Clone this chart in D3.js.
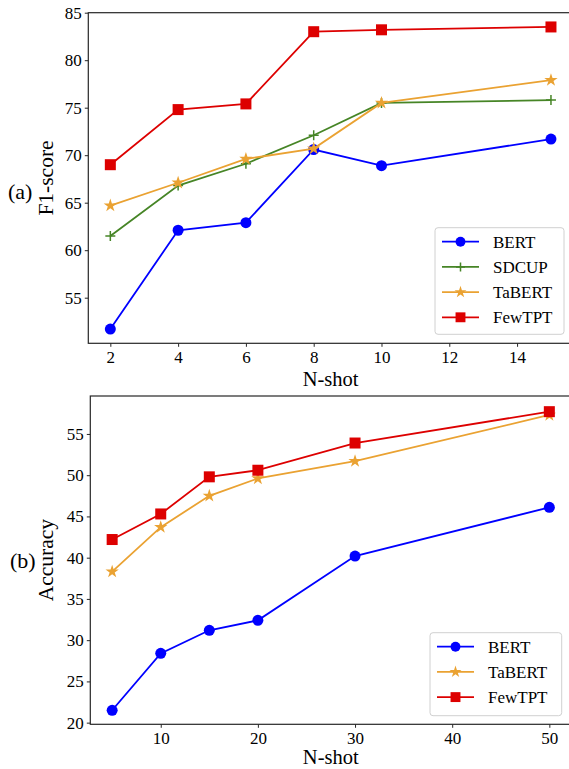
<!DOCTYPE html>
<html>
<head>
<meta charset="utf-8">
<script src="https://cdn.jsdelivr.net/npm/d3@7"></script>
<style>
  body { margin: 0; background: #fff; }
  svg text { font-family: "Liberation Serif", "Times New Roman", serif; }
</style>
</head>
<body>
<svg id="chart" width="569" height="769"></svg>
<script>
// ---- data ----
const shotsA = [2, 4, 6, 8, 10, 15];
const bertA   = [51.7, 62.1, 62.9, 70.6, 68.9, 71.7];
const sdcupA  = [61.5, 66.8, 69.1, 72.1, 75.5, 75.8];
const tabertA = [64.7, 67.1, 69.6, 70.7, 75.5, 77.9];
const fewtptA = [69.0, 74.8, 75.4, 83.0, 83.2, 83.5];
const xTicksA = [2, 4, 6, 8, 10, 12, 14];
const yTicksA = [55, 60, 65, 70, 75, 80, 85];

const shotsB = [5, 10, 15, 20, 30, 50];
const bertB   = [21.5, 28.4, 31.2, 32.4, 40.2, 46.1];
const tabertB = [38.3, 43.7, 47.5, 49.6, 51.7, 57.3];
const fewtptB = [42.2, 45.3, 49.8, 50.6, 53.9, 57.7];
const xTicksB = [10, 20, 30, 40, 50];
const yTicksB = [20, 25, 30, 35, 40, 45, 50, 55];

const style = {
  BERT:   {color: "#0000ff", marker: "circle"},
  SDCUP:  {color: "#468526", marker: "plus"},
  TaBERT: {color: "#eaa232", marker: "star"},
  FewTPT: {color: "#dd0000", marker: "square"}
};

const serif = "Liberation Serif";
const svg = d3.select("#chart");
const axisColor = "#262626";

function drawMarker(g, kind, color, cx, cy, scale = 1) {
  if (kind === "circle") {
    g.append("circle").attr("cx", cx).attr("cy", cy).attr("r", 5.5 * scale).attr("fill", color);
  } else if (kind === "square") {
    const h = 5.5 * scale;
    g.append("rect").attr("x", cx - h).attr("y", cy - h).attr("width", 2 * h).attr("height", 2 * h).attr("fill", color);
  } else if (kind === "star") {
    g.append("path").attr("d", d3.symbol(d3.symbolStar, 55 * scale * scale)())
      .attr("transform", `translate(${cx},${cy})`).attr("fill", color);
  } else if (kind === "plus") {
    const h = 5 * scale;
    g.append("path").attr("d", `M${cx - h},${cy}H${cx + h}M${cx},${cy - h}V${cy + h}`)
      .attr("stroke", color).attr("stroke-width", 1.5).attr("fill", "none");
  }
}

function panel(opts) {
  const {left, right, top, bottom, xDomain, yDomain, xTicks, yTicks, series, shots,
         ylabel, tag, tagX, tagY, xlabelY, legendBox} = opts;
  const x = d3.scaleLinear().domain(xDomain).range([left, right]);
  const y = d3.scaleLinear().domain(yDomain).range([bottom, top]);
  const g = svg.append("g").attr("font-family", serif);

  // axes
  const xa = g.append("g").attr("transform", `translate(0,${bottom})`)
    .call(d3.axisBottom(x).tickValues(xTicks).tickSize(3.5).tickSizeOuter(0).tickPadding(4));
  const ya = g.append("g").attr("transform", `translate(${left},0)`)
    .call(d3.axisLeft(y).tickValues(yTicks).tickSize(3.5).tickSizeOuter(0).tickPadding(3));
  [xa, ya].forEach(a => {
    a.attr("font-family", serif);
    a.select(".domain").remove();
    a.selectAll("line").attr("stroke", axisColor).attr("stroke-width", 1);
    a.selectAll("text").attr("font-family", serif).attr("font-size", 17).attr("fill", "#000");
  });

  // frame
  g.append("rect").attr("x", left).attr("y", top).attr("width", right - left).attr("height", bottom - top)
    .attr("fill", "none").attr("stroke", axisColor).attr("stroke-width", 1.2);

  // lines and markers
  series.forEach(s => {
    const st = style[s.name];
    const pts = shots.map((v, i) => [x(v), y(s.values[i])]);
    g.append("path").attr("d", d3.line()(pts)).attr("fill", "none")
      .attr("stroke", st.color).attr("stroke-width", 1.8);
    pts.forEach(p => drawMarker(g, st.marker, st.color, p[0], p[1]));
  });

  // labels
  g.append("text").attr("x", (left + right) / 2).attr("y", xlabelY)
    .attr("text-anchor", "middle").attr("font-family", serif).attr("font-size", 20.5).text("N-shot");
  g.append("text").attr("transform", `translate(53,${(top + bottom) / 2}) rotate(-90)`)
    .attr("text-anchor", "middle").attr("font-family", serif).attr("font-size", 21.5).text(ylabel);
  g.append("text").attr("x", tagX).attr("y", tagY).attr("font-family", serif).attr("font-size", 22).text(tag);

  // legend
  const lb = legendBox;
  g.append("rect").attr("x", lb.x).attr("y", lb.y).attr("width", lb.w).attr("height", lb.h)
    .attr("rx", 3).attr("fill", "#fff").attr("fill-opacity", 0.85)
    .attr("stroke", "#d0d0d0").attr("stroke-width", 1);
  series.forEach((s, i) => {
    const st = style[s.name];
    const cy = lb.y + 14 + i * 25.2;
    g.append("line").attr("x1", lb.x + 7).attr("x2", lb.x + 44).attr("y1", cy).attr("y2", cy)
      .attr("stroke", st.color).attr("stroke-width", 1.8);
    drawMarker(g, st.marker, st.color, lb.x + 25.5, cy, 0.9);
    g.append("text").attr("x", lb.x + 58).attr("y", cy + 6)
      .attr("font-family", serif).attr("font-size", 17).text(s.name);
  });
}

panel({
  left: 88.3, right: 573, top: 12.7, bottom: 343.3,
  xDomain: [1.35, 15.65], yDomain: [50.2, 85],
  xTicks: xTicksA, yTicks: yTicksA, shots: shotsA,
  series: [
    {name: "BERT", values: bertA},
    {name: "SDCUP", values: sdcupA},
    {name: "TaBERT", values: tabertA},
    {name: "FewTPT", values: fewtptA}
  ],
  ylabel: "F1-score", tag: "(a)", tagX: 8, tagY: 199, xlabelY: 385.5,
  legendBox: {x: 435, y: 227.7, w: 129, h: 106.6}
});

panel({
  left: 90.3, right: 571.2, top: 396, bottom: 724.3,
  xDomain: [2.75, 52.25], yDomain: [19.8, 59.6],
  xTicks: xTicksB, yTicks: yTicksB, shots: shotsB,
  series: [
    {name: "BERT", values: bertB},
    {name: "TaBERT", values: tabertB},
    {name: "FewTPT", values: fewtptB}
  ],
  ylabel: "Accuracy", tag: "(b)", tagX: 10, tagY: 568, xlabelY: 764,
  legendBox: {x: 430, y: 632.7, w: 131.7, h: 83}
});
</script>
</body>
</html>
